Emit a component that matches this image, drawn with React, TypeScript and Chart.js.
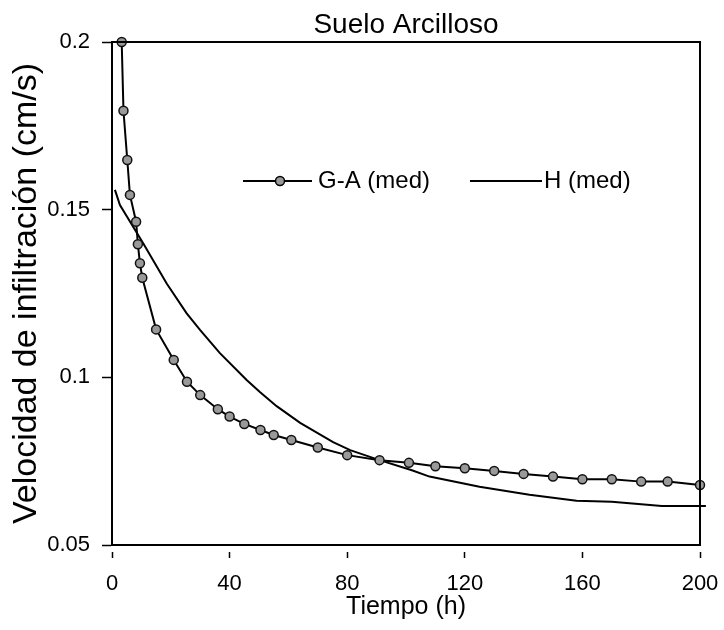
import React, { useEffect, useRef } from "react";
import { Chart, registerables } from "chart.js";

Chart.register(...registerables);

const chartTitle = "Suelo Arcilloso";
const xAxisTitle = "Tiempo (h)";
const yAxisTitle = "Velocidad de infiltración (cm/s)";
const seriesNames = ["G-A (med)", "H (med)"];

const gaTime = [3.3, 3.9, 5.2, 6.1, 8.2, 8.8, 9.5, 10.3, 15, 21, 25.5, 30, 36, 40, 45, 50.5, 55, 61, 70, 80, 91, 101, 110, 120, 130, 140, 150, 160, 170, 180, 189, 200];
const gaVelocity = [0.2, 0.1795, 0.1648, 0.1544, 0.1464, 0.1397, 0.134, 0.1297, 0.1143, 0.1052, 0.0987, 0.0947, 0.0905, 0.0883, 0.0861, 0.0843, 0.0828, 0.0813, 0.0791, 0.0768, 0.0753, 0.0745, 0.0735, 0.0729, 0.0721, 0.0712, 0.0704, 0.0696, 0.0696, 0.0689, 0.0689, 0.0679];

const hTime = [1, 2.7, 10.6, 18.6, 25.4, 30, 36.7, 45.8, 50.3, 56, 64, 75.2, 81, 91, 102, 108, 125, 142, 158, 170, 187, 202];
const hVelocity = [0.1559, 0.1514, 0.14, 0.128, 0.1191, 0.1141, 0.1072, 0.0992, 0.0956, 0.0914, 0.0864, 0.0807, 0.0783, 0.0753, 0.0723, 0.0704, 0.0674, 0.065, 0.0632, 0.0629, 0.0616, 0.0616];

const xTicks = [0, 40, 80, 120, 160, 200];
const yTicks = [0.05, 0.1, 0.15, 0.2];

const FONT = "'Liberation Sans', Arial, sans-serif";

const framePlugin = {
  id: "frame",
  afterDatasetsDraw(chart: any) {
    const { ctx, chartArea } = chart;
    ctx.save();
    ctx.strokeStyle = "#000";
    ctx.lineWidth = 2;
    ctx.beginPath();
    ctx.moveTo(chartArea.left, chartArea.top);
    ctx.lineTo(chartArea.right, chartArea.top);
    ctx.lineTo(chartArea.right, chartArea.bottom);
    ctx.stroke();
    ctx.restore();
  },
};

const legendPlugin = {
  id: "insideLegend",
  afterDraw(chart: any) {
    const { ctx, chartArea } = chart;
    const y = chartArea.top + 139;
    const l = chartArea.left;
    ctx.save();
    ctx.strokeStyle = "#000";
    ctx.lineWidth = 2;
    ctx.font = `24px ${FONT}`;
    ctx.fillStyle = "#000";
    ctx.textBaseline = "middle";
    ctx.textAlign = "left";
    // G-A
    ctx.beginPath();
    ctx.moveTo(l + 131, y);
    ctx.lineTo(l + 200, y);
    ctx.stroke();
    ctx.beginPath();
    ctx.arc(l + 168, y, 4.5, 0, Math.PI * 2);
    ctx.fillStyle = "#999";
    ctx.fill();
    ctx.lineWidth = 1.5;
    ctx.stroke();
    ctx.fillStyle = "#000";
    ctx.fillText(seriesNames[0], l + 206, y);
    // H
    ctx.lineWidth = 2;
    ctx.beginPath();
    ctx.moveTo(l + 358, y);
    ctx.lineTo(l + 430, y);
    ctx.stroke();
    ctx.fillText(seriesNames[1], l + 432, y);
    ctx.restore();
  },
};

export default function App() {
  const ref = useRef<HTMLCanvasElement | null>(null);

  useEffect(() => {
    if (!ref.current) return;
    document.body.style.margin = "0";
    const chart = new Chart(ref.current, {
      type: "scatter",
      data: {
        datasets: [
          {
            label: seriesNames[0],
            data: gaTime.map((t, i) => ({ x: t, y: gaVelocity[i] })),
            showLine: true,
            borderColor: "#000",
            borderWidth: 2,
            backgroundColor: "#999",
            pointBorderColor: "#111",
            pointBorderWidth: 1.5,
            pointRadius: 4.5,
            pointStyle: "circle",
            tension: 0,
            clip: false,
          },
          {
            label: seriesNames[1],
            data: hTime.map((t, i) => ({ x: t, y: hVelocity[i] })),
            showLine: true,
            borderColor: "#000",
            borderWidth: 2,
            pointRadius: 0,
            tension: 0,
            clip: false,
          },
        ],
      },
      options: {
        responsive: false,
        animation: false,
        devicePixelRatio: 1,
        layout: { padding: { left: 0, right: 24, top: 0, bottom: 0 } },
        plugins: {
          legend: { display: false },
          tooltip: { enabled: false },
          title: {
            display: true,
            text: chartTitle,
            color: "#000",
            fullSize: false,
            font: { family: FONT, size: 28, weight: "normal", lineHeight: 1.2 },
            padding: { top: 8, bottom: 0.4 },
          },
        },
        scales: {
          x: {
            type: "linear",
            min: 0,
            max: 200,
            afterBuildTicks: (s: any) => {
              s.ticks = xTicks.map((v) => ({ value: v }));
            },
            afterFit: (s: any) => {
              s.height = 85;
              s.paddingLeft = 0;
              s.paddingRight = 0;
            },
            ticks: {
              color: "#000",
              padding: 13,
              maxRotation: 0,
              autoSkip: false,
              font: { family: FONT, size: 22 },
              callback: (v: any) => String(v),
            },
            grid: {
              drawOnChartArea: false,
              drawTicks: true,
              tickLength: 13,
              tickWidth: 1.5,
              tickColor: "#000",
              tickBorderDash: [0, 6, 7, 40],
            },
            border: { display: true, color: "#000", width: 2 },
            title: {
              display: true,
              text: xAxisTitle,
              color: "#000",
              font: { family: FONT, size: 25, lineHeight: 1.2 },
              padding: { top: 0, bottom: 8 },
            },
          },
          y: {
            type: "linear",
            min: 0.05,
            max: 0.2,
            afterBuildTicks: (s: any) => {
              s.ticks = yTicks.map((v) => ({ value: v }));
            },
            afterFit: (s: any) => {
              s.width = 112;
              s.paddingTop = 0;
              s.paddingBottom = 0;
            },
            ticks: {
              color: "#000",
              padding: 12,
              autoSkip: false,
              font: { family: FONT, size: 22 },
              callback: (v: any) => String(Number(Number(v).toFixed(2))),
            },
            grid: {
              drawOnChartArea: false,
              drawTicks: true,
              tickLength: 10,
              tickWidth: 1.5,
              tickColor: "#000",
            },
            border: { display: true, color: "#000", width: 2 },
            title: {
              display: true,
              text: yAxisTitle,
              color: "#000",
              font: { family: FONT, size: 34, lineHeight: 1.1 },
              padding: { top: 8, bottom: 0 },
            },
          },
        },
      },
      plugins: [framePlugin, legendPlugin],
    } as any);
    return () => chart.destroy();
  }, []);

  return <canvas ref={ref} width={724} height={630} style={{ display: "block" }} />;
}
